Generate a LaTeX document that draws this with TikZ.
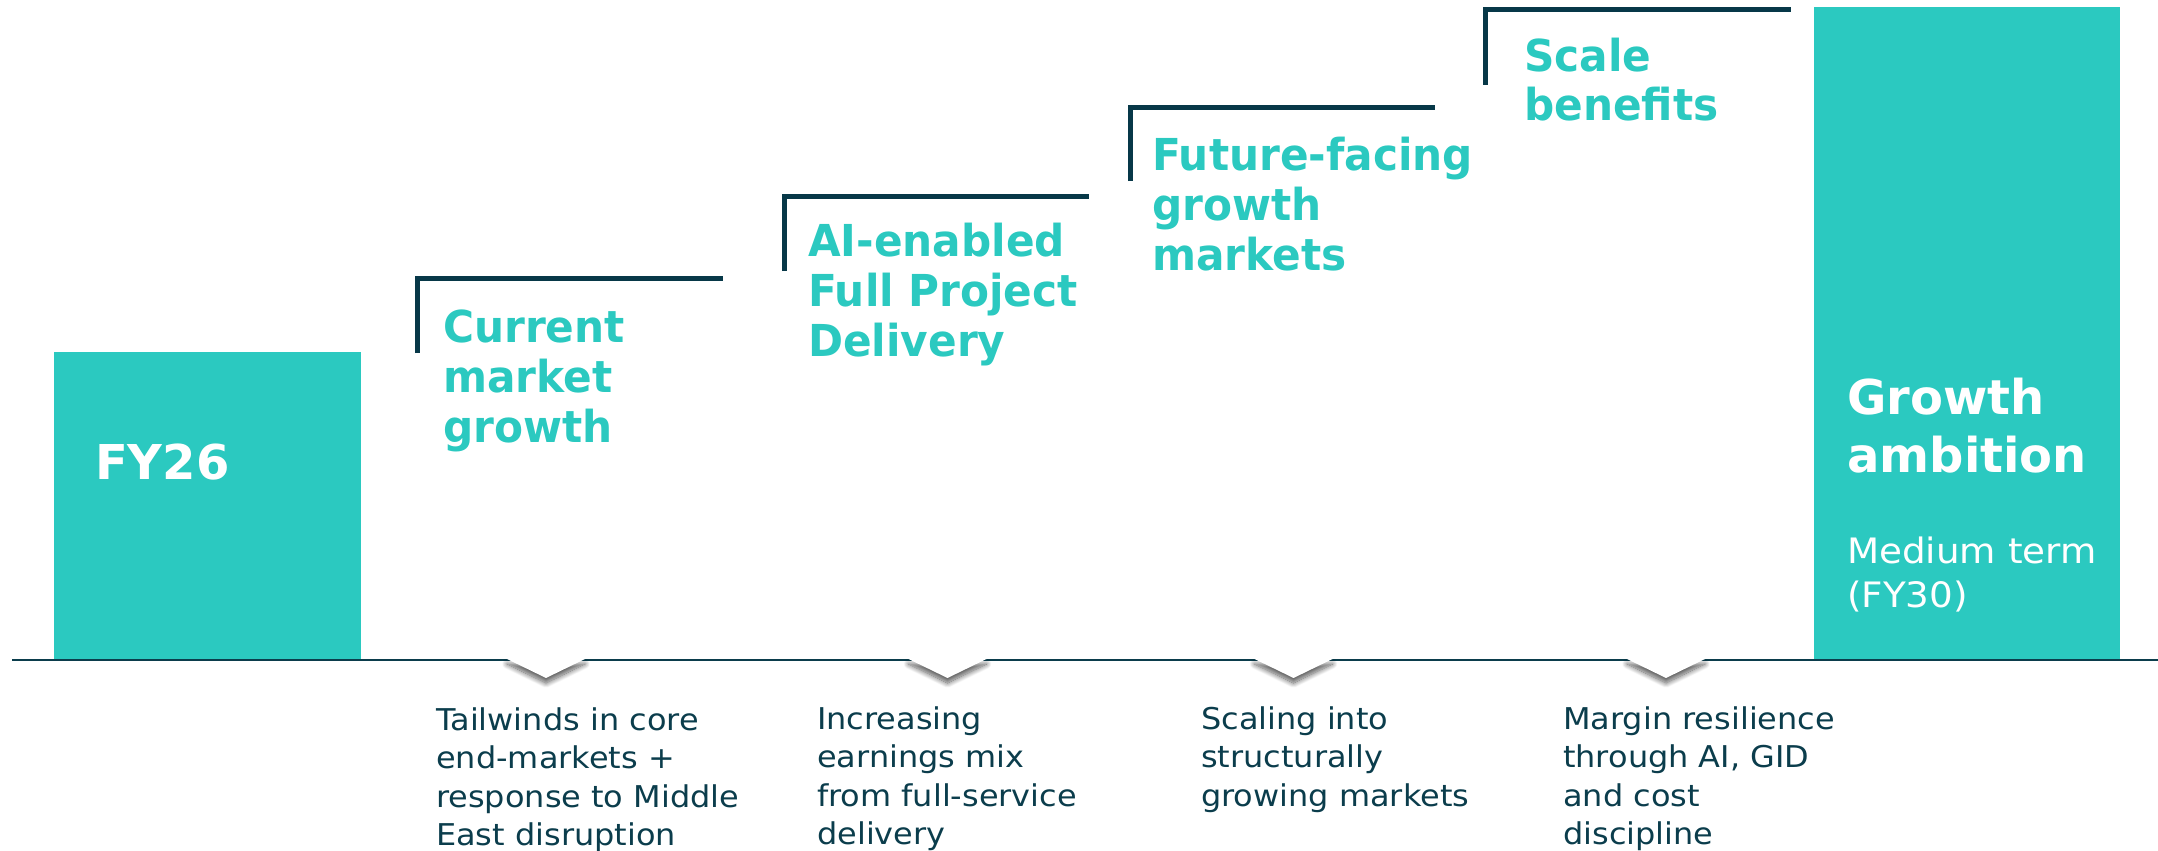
\documentclass[tikz,border=0pt]{standalone}
\usepackage{fontspec}
\setmainfont{DejaVu Sans}
\newfontfamily\headfont[FakeStretch=0.96]{DejaVu Sans}
\newfontfamily\descfont[FakeStretch=1.065]{DejaVu Sans}
\usetikzlibrary{shadows.blur}
\definecolor{teal}{HTML}{2BC9C0}
\definecolor{navy}{HTML}{073848}
\definecolor{ink}{HTML}{0B3D4C}
\newcommand\stk[1]{\vtop{#1}}
\begin{document}
\begin{tikzpicture}[x=1pt,y=-1pt,
  box/.style={fill=teal,draw=none},
  brk/.style={draw=navy,line width=5pt,line cap=butt,line join=miter},
  head/.style={text=teal,inner sep=0pt,anchor=base west,font=\headfont\bfseries\fontsize{44}{50}\selectfont},
  big/.style={text=white,inner sep=0pt,anchor=base west,font=\bfseries\fontsize{48}{58}\selectfont},
  sub/.style={text=white,inner sep=0pt,anchor=base west,font=\descfont\fontsize{35}{44}\selectfont},
  desc/.style={text=ink,inner sep=0pt,anchor=base west,font=\descfont\fontsize{30}{38.5}\selectfont},
  base/.style={draw=ink,line width=2pt},
  notch/.style={fill=white,draw=none,blur shadow={shadow xshift=0pt,shadow yshift=-5pt,shadow blur radius=5pt,shadow blur steps=12,shadow opacity=65}}
]
\useasboundingbox (0,0) rectangle (2158,851);
% boxes
\fill[box] (54,352) rectangle (361,659);
\fill[box] (1814,7) rectangle (2120,660);
% baseline
\coordinate (L) at (12,659.5);
\coordinate (R) at (2158,659.5);
\draw[base] (L) -- (R);
% notches
\foreach \a in {546,947.5,1293.5,1666}{
  \path[notch] (\a-39,659) -- (\a,678) -- (\a+39,659) -- cycle;
}
% brackets
\draw[brk] (417.5,353) |- (723,278);
\draw[brk] (784,271) |- (1089,196.5);
\draw[brk] (1130,181) |- (1435,107);
\draw[brk] (1485.5,85) |- (1791,10);
% headings
\node[head] (h1) at (443,342) {\stk{\hbox{Current}\hbox{market}\hbox{growth}}};
\node[head] (h2) at (808,256) {\stk{\hbox{AI-enabled}\hbox{Full Project}\hbox{Delivery}}};
\node[head] (h3) at (1152,170) {\stk{\hbox{Future-facing}\hbox{growth}\hbox{markets}}};
\node[head] (h4) at (1524,71) {\stk{\hbox{Scale}\hbox{benefits}}};
\node[big] (fy) at (95,479) {FY26};
\node[big] (ga) at (1847,414) {\stk{\hbox{Growth}\hbox{ambition}}};
\node[sub] (mt) at (1847,563) {\stk{\hbox{Medium term}\hbox{(FY30)}}};
% descriptions
\node[desc] (d1) at (436,730) {\stk{\hbox{Tailwinds in core}\hbox{end-markets +}\hbox{response to Middle}\hbox{East disruption}}};
\node[desc] (d2) at (817,729) {\stk{\hbox{Increasing}\hbox{earnings mix}\hbox{from full-service}\hbox{delivery}}};
\node[desc] (d3) at (1201,729) {\stk{\hbox{Scaling into}\hbox{structurally}\hbox{growing markets}}};
\node[desc] (d4) at (1563,729) {\stk{\hbox{Margin resilience}\hbox{through AI, GID}\hbox{and cost}\hbox{discipline}}};
\end{tikzpicture}
\end{document}
